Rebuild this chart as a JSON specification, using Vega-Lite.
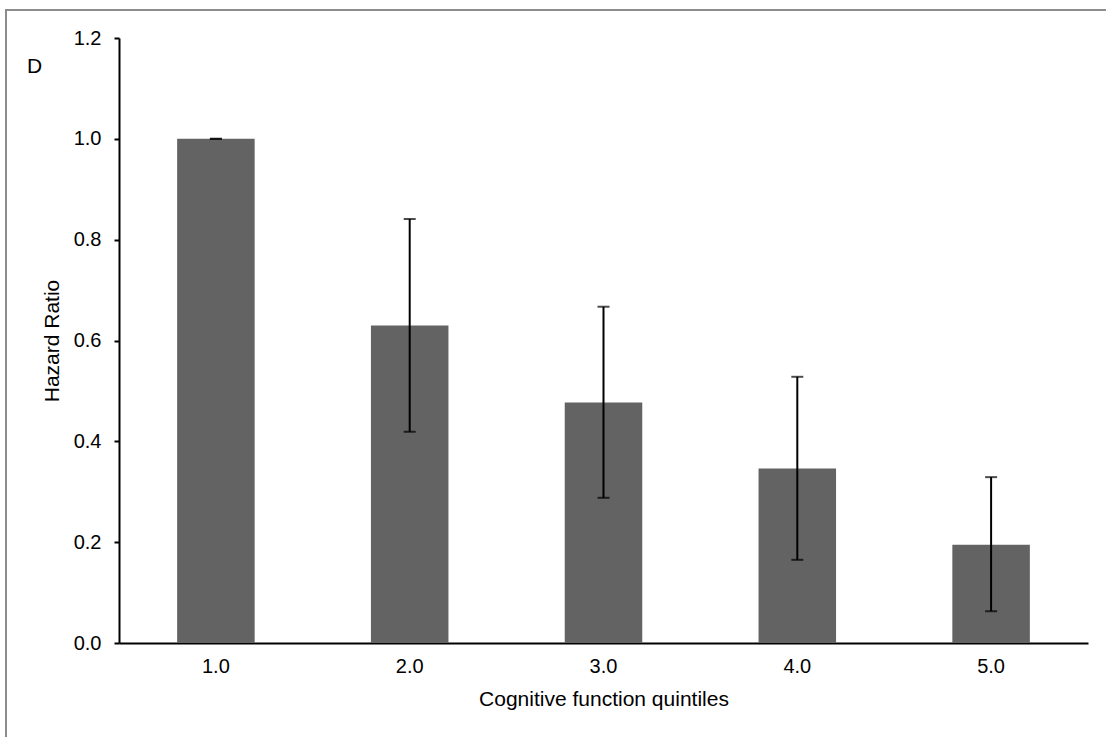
{
  "$schema": "https://vega.github.io/schema/vega-lite/v6.json",
  "width": 1110,
  "height": 740,
  "autosize": {"type": "none"},
  "padding": {"left": 6, "top": 10, "right": 0, "bottom": 0},
  "background": "white",
  "title": {"text": "D", "anchor": "start", "frame": "group", "orient": "top", "dx": 21, "dy": 67, "fontSize": 21, "font": "Liberation Sans", "fontWeight": "normal", "color": "black", "baseline": "top", "offset": 0},
  "config": {
    "view": {"stroke": "#8c8c8c", "strokeWidth": 2},
    "axis": {"labelFont": "Liberation Sans", "titleFont": "Liberation Sans", "labelColor": "black", "titleColor": "black", "labelFontSize": 20, "titleFontSize": 21, "titleFontWeight": "normal", "domainColor": "black", "tickColor": "black", "domainWidth": 2, "tickWidth": 2, "grid": false}
  },
  "data": {"values": [
    {"q": "1.0", "hr": 1.0, "lo": 1.0, "hi": 1.0},
    {"q": "2.0", "hr": 0.630, "lo": 0.419, "hi": 0.841},
    {"q": "3.0", "hr": 0.477, "lo": 0.288, "hi": 0.667},
    {"q": "4.0", "hr": 0.346, "lo": 0.165, "hi": 0.528},
    {"q": "5.0", "hr": 0.195, "lo": 0.063, "hi": 0.329}
  ]},
  "encoding": {
    "x": {"field": "q", "type": "nominal", "sort": null,
      "scale": {"range": [113, 1082], "paddingInner": 0, "paddingOuter": 0},
      "axis": {"title": "Cognitive function quintiles", "labelAngle": 0, "ticks": false, "tickSize": 0, "labelPadding": 13, "titlePadding": 12, "offset": -107}}
  },
  "layer": [
    {"mark": {"type": "bar", "color": "#636363", "width": {"band": 0.4}},
     "encoding": {"y": {"field": "hr", "type": "quantitative",
       "scale": {"domain": [0, 1.2], "range": [633, 28], "nice": false, "zero": true},
       "axis": {"title": "Hazard Ratio", "values": [0, 0.2, 0.4, 0.6, 0.8, 1.0, 1.2], "format": ".1f", "tickSize": 5, "labelPadding": 13, "titlePadding": 11, "offset": -113}}}},
    {"mark": {"type": "rule", "color": "black", "strokeWidth": 2},
     "encoding": {"y": {"field": "lo", "type": "quantitative"}, "y2": {"field": "hi"}}},
    {"mark": {"type": "tick", "color": "black", "thickness": 2, "size": 12},
     "encoding": {"y": {"field": "lo", "type": "quantitative"}}},
    {"mark": {"type": "tick", "color": "black", "thickness": 2, "size": 12},
     "encoding": {"y": {"field": "hi", "type": "quantitative"}}}
  ]
}
